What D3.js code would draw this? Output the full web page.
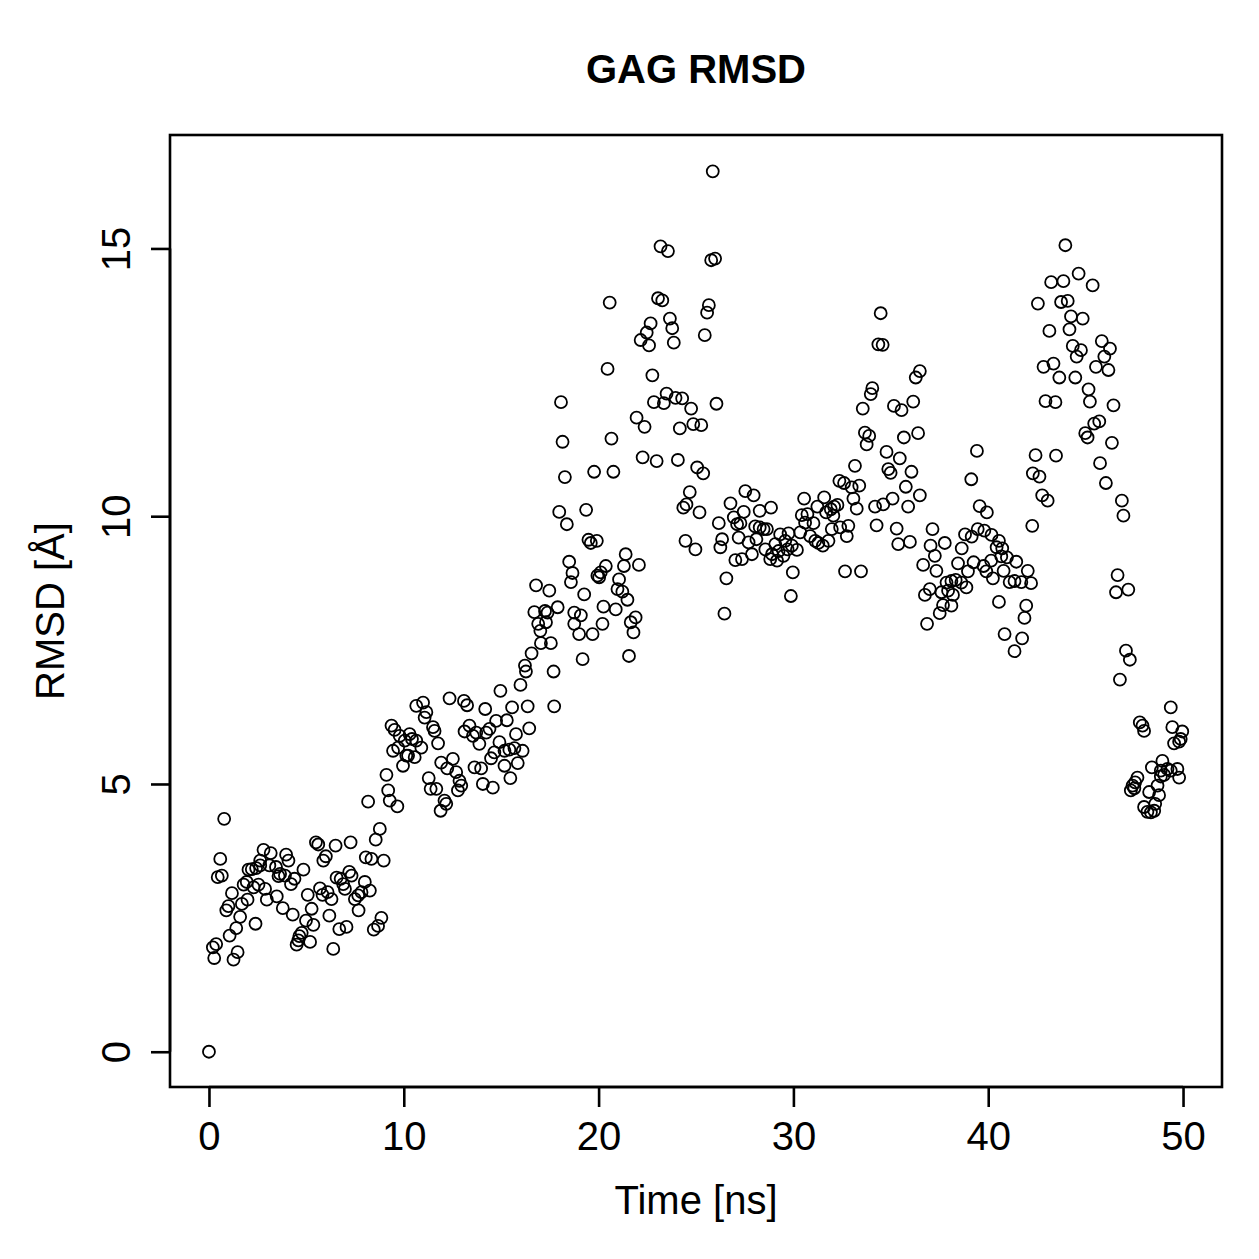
<!DOCTYPE html>
<html>
<head>
<meta charset="utf-8">
<script src="https://cdn.jsdelivr.net/npm/d3@7"></script>
<style>
  body { margin: 0; background: #fff; }
  text { font-family: "Liberation Sans", Arial, Helvetica, sans-serif; fill: #000; }
</style>
</head>
<body>
<svg id="chart" width="1259" height="1259"></svg>
<script>
// time [ns] and RMSD [A]
var time = [
  0, 0.78, 0.58, 0.45, 0.66, 0.2, 0.37, 0.27, 1.26, 1.47, 1.06, 1.4, 1.6, 0.89, 1.0, 1.18, 1.69, 1.98, 1.78, 1.94,
  2.29, 2.54, 2.88, 2.03, 2.2, 2.42, 2.63, 2.63, 2.8, 3.17, 3.1, 3.44, 2.39, 2.97, 3.48, 3.79, 4.3, 3.57, 3.65, 3.9,
  3.96, 4.08, 4.21, 4.39, 4.85, 5.07, 5.27, 4.98, 5.36, 4.76, 4.64, 4.59, 4.5, 5.19, 6.38, 5.49, 5.61, 5.87, 6.0, 6.5,
  7.27, 5.7, 5.83, 6.09, 6.29, 6.18, 6.69, 7.06, 6.55, 6.76, 6.89, 6.98, 7.2, 7.32, 7.49, 7.66, 7.83, 8.0, 8.26, 7.68,
  8.05, 8.34, 8.97, 8.56, 8.77, 8.17, 9.28, 9.67, 8.46, 8.68, 8.85,
  9.11, 9.2, 9.37, 9.53, 9.79, 10.05, 10.3, 10.42, 10.64, 10.9, 9.45, 9.71, 10.13, 10.56, 9.96, 10.22, 10.64, 10.99, 11.16, 11.07,
  11.5, 11.58, 11.76, 11.28, 11.38, 11.67, 11.92, 12.23, 12.52, 12.69, 12.86, 12.95, 12.78, 12.09, 12.18, 11.89, 12.35, 13.09, 13.25, 13.12,
  13.37, 13.55, 13.72, 13.88, 14.23, 14.4, 14.18, 14.74, 15.29, 15.56, 14.96, 13.63, 13.97, 14.06, 14.57, 14.48, 14.65, 14.91, 15.17, 15.42,
  15.68, 16.1, 15.17, 15.85, 15.47, 15.76, 16.44, 16.36, 15.99, 16.22, 16.27, 16.56, 17.72, 17.69, 17.04, 17.55, 16.7, 16.9, 17.01, 17.25,
  17.38, 17.9, 17.3, 16.79, 17.47,
  18.07, 18.15, 18.27, 17.98, 18.37, 19.36, 19.48, 19.6, 19.91, 18.49, 18.66, 18.58, 19.18, 21.56, 19.26, 20.25, 20.88, 18.75, 19.09, 18.75,
  19.0, 19.69, 20.2, 19.94, 20.11, 20.37, 20.03, 21.39, 21.3, 22.07, 21.05, 20.97, 21.22, 21.48, 21.65, 21.9, 21.79, 20.66, 19.77, 20.76,
  20.46, 22.76, 21.95, 22.36, 22.26, 22.98, 22.84, 23.35, 23.49, 23.95, 24.29, 24.75, 24.17, 24.86, 25.27, 26.05, 24.07, 25.06, 25.37, 24.68,
  24.51, 24.35, 25.18, 24.46, 24.97, 26.77, 26.94, 26.17, 27.11, 26.34, 26.25, 27.02, 26.56, 26.46,
  25.86, 23.18, 23.56, 25.78, 25.98, 20.57, 23.05, 23.27, 25.66, 25.57, 23.66, 23.78, 23.86, 22.67, 22.47, 22.16, 22.59, 25.45,
  33.67, 33.89, 33.76, 35.67, 36.4, 34.78, 35.46, 34.87, 34.99, 36.06, 35.77, 36.49, 35.89, 33.16, 32.36, 32.6, 32.99, 33.38, 33.08, 33.25,
  34.19, 34.61, 35.09, 34.27, 35.3, 35.38, 35.98, 32.65, 33.47, 27.53, 27.96, 27.45, 28.27, 28.85, 27.28, 27.19, 27.7, 27.87, 27.36, 28.04,
  28.27, 28.47, 28.64, 28.1, 28.56, 28.81, 29.07, 29.24, 29.32, 29.75, 29.58, 28.9, 29.16, 29.49, 29.7, 29.92, 30.18, 30.35, 29.87, 29.97,
  30.55, 30.43, 30.72, 30.6, 31.03, 31.23, 31.58, 31.68, 31.92, 32.09, 32.26, 32.05, 30.86, 31.12, 31.28, 31.51, 31.8, 31.97, 32.4, 32.82,
  32.74,
  34.48, 34.36, 34.58, 36.49, 36.28, 34.05, 33.97, 33.56, 35.16, 35.55, 36.15, 37.14,
  39.42, 42.43, 43.48, 42.29, 42.63, 42.77, 43.05, 39.13, 39.56, 39.93, 42.26, 37.04, 37.77, 37.26, 36.66, 37.34, 38.64, 38.81, 39.15, 39.46,
  39.8, 40.17, 40.55, 40.43, 40.72, 38.45, 39.25, 38.96, 39.76, 39.9, 40.15, 40.24, 40.67, 40.96, 40.79, 41.44, 42.03, 42.2, 41.1, 41.35,
  41.7, 37.86, 38.11, 38.33, 38.62, 38.88, 37.94, 38.19, 37.6, 37.0, 36.75, 37.68, 38.11, 37.51, 36.86, 40.55, 41.95, 41.86, 40.84, 41.74,
  41.35,
  43.96, 44.64, 43.23, 43.86, 45.36, 42.55, 43.74, 44.08, 44.25, 44.85, 43.14, 44.17, 45.83, 46.25, 44.34, 44.76, 44.54, 45.96, 42.84, 43.35,
  45.53, 46.17, 43.65, 44.47, 45.15, 45.22, 42.94, 43.45, 46.43, 45.44, 45.7, 44.98, 45.1, 46.35, 45.74, 46.04, 46.86,
  46.94, 46.64, 46.56, 47.19, 47.07, 47.27, 46.76, 49.37,
  47.78, 47.92, 48.0, 49.45, 49.96, 49.88, 49.54, 49.8, 48.94, 48.4, 48.86, 49.2, 49.37, 49.71, 49.8, 49.03, 48.86, 47.66, 47.54, 47.41,
  47.5, 47.32, 48.69, 48.26, 48.77, 48.57, 48.0, 48.17, 48.35, 48.52
];
var rmsd = [
  0, 4.35, 3.6, 3.26, 3.29, 1.95, 2.01, 1.75, 1.72, 1.86, 2.17, 2.31, 2.52, 2.64, 2.72, 2.96, 2.76, 2.84, 3.12, 3.17,
  3.07, 3.12, 3.04, 3.4, 3.41, 3.43, 3.48, 3.57, 3.77, 3.71, 3.48, 3.45, 2.39, 2.84, 2.9, 2.68, 2.56, 3.28, 3.32, 3.29,
  3.68, 3.57, 3.13, 3.23, 3.4, 2.93, 2.67, 2.45, 2.37, 2.22, 2.16, 2.08, 2.0, 2.05, 1.92, 3.91, 3.87, 3.57, 3.65, 3.85,
  3.91, 3.05, 2.93, 2.98, 2.85, 2.54, 2.29, 2.33, 3.25, 3.23, 3.13, 3.04, 3.36, 3.29, 2.85, 2.92, 2.98, 3.17, 3.01, 2.64,
  3.63, 3.6, 3.57, 3.96, 4.16, 4.67, 4.69, 4.58, 2.28, 2.35, 2.5,
  5.17, 4.88, 6.09, 6.01, 5.9, 5.81, 5.93, 5.84, 5.81, 5.68, 5.62, 5.68, 5.53, 5.5, 5.34, 5.53, 6.46, 6.52, 6.34, 6.24,
  6.06, 5.99, 5.76, 5.11, 4.91, 4.91, 5.4, 5.29, 5.47, 5.22, 5.06, 4.97, 4.88, 4.69, 4.63, 4.5, 6.6, 6.55, 6.47, 5.98,
  6.09, 5.9, 5.96, 5.75, 5.96, 6.03, 6.4, 6.18, 6.19, 6.43, 6.74, 5.31, 5.29, 5.0, 4.93, 5.48, 5.59, 5.78, 5.62, 5.64,
  5.67, 5.62, 5.34, 5.39, 5.11, 5.93, 6.04, 6.45, 6.85, 7.21, 7.1, 7.44, 6.45, 7.1, 7.63, 7.63, 8.21, 7.99, 7.86, 8.23,
  8.2, 8.3, 8.02, 8.71, 8.61,
  12.13, 11.39, 10.73, 10.08, 9.85, 10.12, 9.56, 9.5, 9.54, 9.15, 8.94, 8.77, 7.33, 7.39, 8.54, 8.31, 8.26, 8.2, 8.15, 7.99,
  7.8, 7.8, 7.99, 8.89, 8.95, 9.07, 8.86, 9.29, 9.07, 9.09, 8.82, 8.64, 8.59, 8.44, 8.02, 8.11, 7.83, 11.45, 10.83, 10.83,
  12.75, 12.63, 11.84, 11.67, 11.1, 11.03, 12.13, 12.11, 12.29, 12.21, 12.2, 12.01, 11.64, 11.72, 11.7, 12.1, 11.05, 10.91, 10.8, 10.45,
  10.22, 10.16, 10.07, 9.54, 9.38, 10.24, 9.98, 9.87, 9.85, 9.57, 9.42, 9.18, 8.84, 8.18,
  16.44, 15.04, 14.95, 14.78, 14.81, 13.99, 14.07, 14.03, 13.94, 13.8, 13.69, 13.51, 13.24, 13.6, 13.43, 13.29, 13.19, 13.38,
  11.56, 11.5, 11.34, 11.47, 11.55, 11.2, 11.08, 10.88, 10.81, 10.83, 10.55, 10.39, 10.18, 10.94, 10.66, 10.62, 10.54, 10.57, 10.33, 10.14,
  10.18, 10.22, 10.33, 9.83, 9.77, 9.48, 9.52, 8.97, 8.97, 10.47, 10.39, 10.08, 10.1, 10.16, 9.87, 9.6, 9.51, 9.29, 9.2, 9.81,
  9.79, 9.76, 9.76, 9.57, 9.38, 9.2, 9.48, 9.35, 9.66, 9.68, 9.54, 9.29, 9.17, 9.26, 9.38, 9.45, 9.37, 9.7, 8.51, 8.95,
  10.33, 10.02, 10.04, 9.88, 9.87, 10.18, 10.35, 10.07, 10.13, 10.18, 10.21, 10.01, 9.63, 9.54, 9.5, 9.45, 9.54, 9.76, 9.79, 9.82,
  9.63,
  13.79, 13.21, 13.2, 12.71, 12.59, 12.39, 12.28, 12.01, 12.06, 11.98, 12.14, 9.76,
  11.22, 11.14, 11.13, 10.8, 10.74, 10.39, 10.29, 10.69, 10.19, 10.07, 9.82, 9.45, 9.5, 9.26, 9.09, 8.98, 9.4, 9.66, 9.62, 9.76,
  9.73, 9.65, 9.54, 9.42, 9.4, 9.12, 9.14, 8.97, 9.07, 8.97, 9.17, 8.84, 9.25, 9.23, 8.98, 9.15, 8.98, 8.75, 8.77, 8.79,
  8.77, 8.76, 8.79, 8.81, 8.76, 8.67, 8.61, 8.53, 8.58, 8.64, 8.53, 8.34, 8.33, 8.19, 7.99, 8.4, 8.33, 8.1, 7.8, 7.72,
  7.48,
  15.06, 14.53, 14.37, 14.39, 14.31, 13.97, 14.0, 14.02, 13.73, 13.69, 13.46, 13.49, 13.27, 13.13, 13.18, 13.1, 12.98, 12.98, 12.79, 12.85,
  12.79, 12.73, 12.59, 12.59, 12.37, 12.14, 12.15, 12.13, 12.07, 11.73, 11.77, 11.55, 11.47, 11.37, 10.99, 10.62, 10.29,
  10.01, 8.9, 8.58, 8.63, 7.49, 7.32, 6.95, 6.43,
  6.15, 6.09, 5.99, 6.06, 5.98, 5.84, 5.76, 5.79, 5.43, 5.31, 5.25, 5.28, 5.25, 5.28, 5.12, 5.17, 5.14, 5.12, 5.03, 4.97,
  4.92, 4.88, 4.97, 4.85, 4.79, 4.63, 4.57, 4.48, 4.47, 4.5
];
var xTicks = [0, 10, 20, 30, 40, 50],
    yTicks = [0, 5, 10, 15];
var timeRange = [0, 50],
    rmsdRange = [0, 16.46];
var title = "GAG RMSD",
    xLabel = "Time [ns]",
    yLabel = "RMSD [\u00C5]";

// plot box like R's default (4% padding on each side)
function padded(ext) {
  var d = (ext[1] - ext[0]) * 0.04;
  return [ext[0] - d, ext[1] + d];
}

var box = {left: 170, right: 1222, top: 135, bottom: 1087},
    svg = d3.select("#chart"),
    points = time.map(function(t, i) { return {t: t, r: rmsd[i]}; }),
    x = d3.scaleLinear().domain(padded(timeRange)).range([box.left, box.right]),
    y = d3.scaleLinear().domain(padded(rmsdRange)).range([box.bottom, box.top]);

svg.append("rect")
    .attr("x", box.left)
    .attr("y", box.top)
    .attr("width", box.right - box.left)
    .attr("height", box.bottom - box.top)
    .attr("fill", "none")
    .attr("stroke", "#000")
    .attr("stroke-width", 2.6);

var xAxis = svg.append("g")
    .attr("transform", "translate(0," + box.bottom + ")")
    .call(d3.axisBottom(x).tickValues(xTicks).tickSize(20).tickFormat(d3.format("d")));
xAxis.select(".domain")
    .attr("d", "M" + x(xTicks[0]) + ",0H" + x(xTicks[xTicks.length - 1]))
    .attr("stroke-width", 2.6);
xAxis.selectAll(".tick line").attr("stroke-width", 2.6);
xAxis.selectAll(".tick text")
    .attr("dy", null)
    .attr("y", 63)
    .style("font-family", "'Liberation Sans', Arial, sans-serif")
    .style("font-size", "40px");

var yAxis = svg.append("g")
    .attr("transform", "translate(" + box.left + ",0)")
    .call(d3.axisLeft(y).tickValues(yTicks).tickSize(19).tickFormat(d3.format("d")));
yAxis.select(".domain")
    .attr("d", "M0," + y(yTicks[0]) + "V" + y(yTicks[yTicks.length - 1]))
    .attr("stroke-width", 2.6);
yAxis.selectAll(".tick line").attr("stroke-width", 2.6);
yAxis.selectAll(".tick text")
    .attr("x", null)
    .attr("dy", null)
    .attr("text-anchor", "middle")
    .attr("transform", "translate(-40,0) rotate(-90)")
    .style("font-family", "'Liberation Sans', Arial, sans-serif")
    .style("font-size", "40px");

svg.append("g").selectAll(".pt").data(points)
    .enter().append("circle")
    .attr("class", "pt")
    .attr("cx", function(d) { return x(d.t); })
    .attr("cy", function(d) { return y(d.r); })
    .attr("r", 6)
    .attr("fill", "none")
    .attr("stroke", "#000")
    .attr("stroke-width", 1.8);

svg.append("text")
    .attr("x", (box.left + box.right) / 2)
    .attr("y", 83)
    .attr("text-anchor", "middle")
    .style("font-size", "40px")
    .style("font-weight", "bold")
    .text(title);

svg.append("text")
    .attr("x", (box.left + box.right) / 2)
    .attr("y", 1214)
    .attr("text-anchor", "middle")
    .style("font-size", "40px")
    .text(xLabel);

svg.append("text")
    .attr("transform", "translate(64," + (box.top + box.bottom) / 2 + ") rotate(-90)")
    .attr("text-anchor", "middle")
    .style("font-size", "40px")
    .text(yLabel);
</script>
</body>
</html>
